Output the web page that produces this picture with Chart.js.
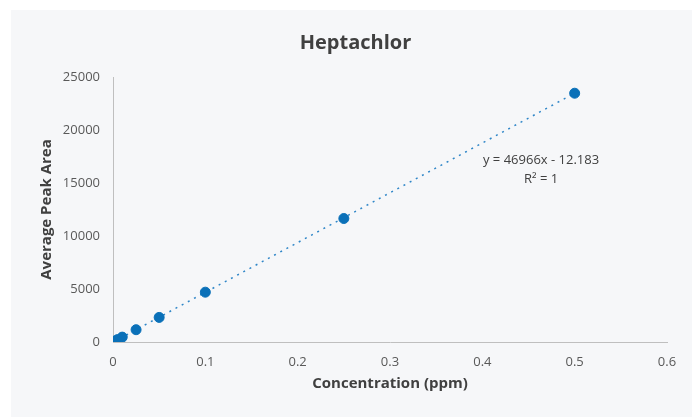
<!DOCTYPE html>
<html>
<head>
<meta charset="utf-8">
<script src="https://cdn.jsdelivr.net/npm/chart.js@4.4.1/dist/chart.umd.min.js"></script>
<style>
  body { margin: 0; background: #ffffff; }
  #panel { position: absolute; left: 11px; top: 10px; width: 681px; height: 407px; background: #f6f7f9; }
</style>
</head>
<body>
<div id="panel"><canvas id="chart" width="681" height="407"></canvas></div>
<script>
// calibration data
var concentration = [0.001, 0.0025, 0.005, 0.01, 0.025, 0.05, 0.1, 0.25, 0.5];
var peakArea = [40, 105, 225, 460, 1160, 2320, 4700, 11650, 23470];
var slope = 46966;
var intercept = -12.183;
var rSquared = 1;
var chartTitle = 'Heptachlor';
var xTicks = [0, 0.1, 0.2, 0.3, 0.4, 0.5, 0.6];
var yTicks = [0, 5000, 10000, 15000, 20000, 25000];

var font = "'Open Sans', 'Liberation Sans', sans-serif";

var points = concentration.map(function(c, i) {
  return { x: c, y: peakArea[i] };
});

// linear trendline across the data range
var xMin = Math.min.apply(null, concentration);
var xMax = Math.max.apply(null, concentration);
var trend = [
  { x: xMin, y: slope * xMin + intercept },
  { x: xMax, y: slope * xMax + intercept }
];

// title centred on the whole panel (built-in one only reserves the space),
// plus the trendline equation
var overlayText = {
  id: 'overlayText',
  afterDatasetsDraw: function(chart) {
    var ctx = chart.ctx;
    ctx.save();
    ctx.fillStyle = '#404040';
    ctx.textAlign = 'center';
    ctx.textBaseline = 'middle';
    ctx.font = "bold 20px " + font;
    ctx.fillText(chartTitle, chart.width / 2 + 4, 33);

    var x = chart.scales.x.getPixelForValue(0.4636);
    var y = chart.scales.y.getPixelForValue(17100);
    ctx.font = "13px " + font;
    ctx.fillText('y = ' + slope + 'x - ' + Math.abs(intercept), x, y);
    ctx.fillText('R² = ' + rSquared, x, y + 19);
    ctx.restore();
  }
};

new Chart(document.getElementById('chart'), {
  type: 'scatter',
  data: {
    datasets: [{
      data: points,
      backgroundColor: '#0a70b8',
      borderColor: '#0a70b8',
      pointRadius: 5,
      pointHoverRadius: 5,
      order: 1
    }, {
      type: 'line',
      data: trend,
      borderColor: '#2f86c8',
      borderWidth: 1.5,
      borderDash: [2, 5],
      pointRadius: 0,
      fill: false,
      order: 2
    }]
  },
  options: {
    responsive: false,
    animation: false,
    layout: { padding: { left: 0, right: 25, top: 0, bottom: 0 } },
    plugins: {
      legend: { display: false },
      tooltip: { enabled: false },
      title: {
        display: true,
        text: chartTitle,
        color: 'rgba(0,0,0,0)',
        font: { family: font, size: 20, weight: 'bold' },
        padding: { top: 21, bottom: 22 }
      }
    },
    scales: {
      x: {
        type: 'linear',
        min: 0,
        max: 0.6,
        afterBuildTicks: function(scale) {
          scale.ticks = xTicks.map(function(v) { return { value: v }; });
        },
        afterFit: function(scale) { scale.height = 75; },
        grid: { display: false, drawTicks: false },
        border: { display: true, color: '#bfbfbf', width: 1 },
        ticks: {
          color: '#595959',
          padding: 12,
          font: { family: font, size: 13 },
          callback: function(v) { return String(Math.round(v * 10) / 10); }
        },
        title: {
          display: true,
          text: 'Concentration (ppm)',
          color: '#404040',
          font: { family: font, size: 15, weight: 'bold' },
          padding: { top: 24, bottom: 24 }
        }
      },
      y: {
        type: 'linear',
        min: 0,
        max: 25000,
        afterBuildTicks: function(scale) {
          scale.ticks = yTicks.map(function(v) { return { value: v }; });
        },
        afterFit: function(scale) { scale.width = 102; },
        grid: { display: false, drawTicks: false },
        border: { display: true, color: '#bfbfbf', width: 1 },
        ticks: {
          color: '#595959',
          padding: 13,
          font: { family: font, size: 13 },
          callback: function(v) { return String(v); }
        },
        title: {
          display: true,
          text: 'Average Peak Area',
          color: '#404040',
          font: { family: font, size: 15, weight: 'bold' },
          padding: { top: 27, bottom: 27 }
        }
      }
    }
  },
  plugins: [overlayText]
});
</script>
</body>
</html>
